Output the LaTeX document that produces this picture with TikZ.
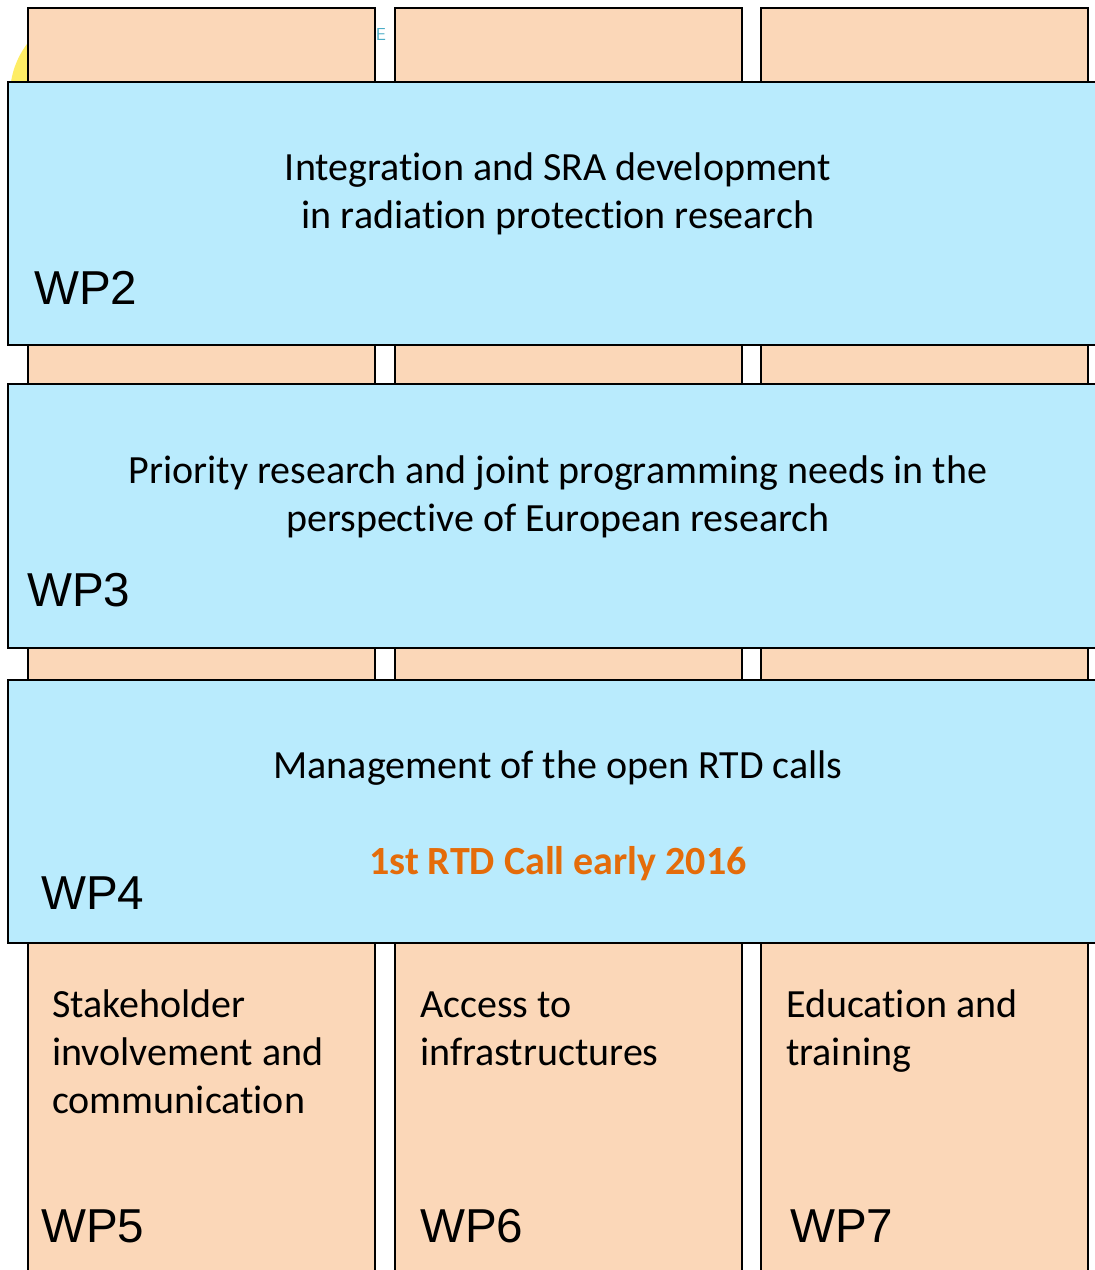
\documentclass[tikz,border=0pt]{standalone}
\usepackage{fontspec}
\setmainfont[Ligatures=NoCommon]{Carlito}
\newfontfamily\arialfont{Liberation Sans}
\definecolor{peach}{HTML}{FBD7B8}
\definecolor{skyblue}{HTML}{B9EBFD}
\definecolor{callorange}{HTML}{E46C0A}
\definecolor{teal}{HTML}{4BACC6}
\begin{document}
\begin{tikzpicture}[x=0.75pt,y=-0.75pt,
  colbox/.style={draw=black, line width=1.6pt, fill=peach},
  wpbox/.style={draw=black, line width=1.2pt, fill=skyblue},
  maintext/.style={font=\fontsize{30}{36}\selectfont, align=center, inner sep=0pt},
  coltext/.style={font=\fontsize{30}{36}\selectfont, align=left, inner sep=0pt, anchor=base west},
  wplabel/.style={font=\arialfont\fontsize{35.7}{40}\selectfont, inner sep=0pt, anchor=west}]
\useasboundingbox (0,0) rectangle (1095,1270);
% background fragments
\fill[yellow!85!orange!60] (95,95) circle (85);
\node[font=\sffamily\fontsize{13}{14}\selectfont, text=teal, inner sep=0pt] (efrag) at (381,35) {E};
% columns
\draw[colbox] (28,8) rectangle (375,1285);
\draw[colbox] (395,8) rectangle (742,1285);
\draw[colbox] (761,8) rectangle (1088,1285);
% work package bands
\draw[wpbox] (8,82) rectangle (1110,345);
\draw[wpbox] (8,384) rectangle (1110,648);
\draw[wpbox] (8,680) rectangle (1110,943);
% texts
\node[maintext] (t2) at (558,194) {Integration and SRA development\\in radiation protection research};
\node[wplabel] (wp2) at (34,288) {WP2};
\node[maintext] (t3) at (558,497) {Priority research and joint programming needs in the\\perspective of European research};
\node[wplabel] (wp3) at (27,590) {WP3};
\node[maintext] (t4) at (558,768) {Management of the open RTD calls};
\node[maintext, font=\bfseries\fontsize{30}{36}\selectfont, text=callorange] (call) at (558,864) {1st RTD Call early 2016};
\node[wplabel] (wp4) at (41,893) {WP4};
\node[coltext] (t5) at (52,1017) {Stakeholder};
\node[coltext] (t5b) at (52,1065) {involvement and};
\node[coltext] (t5c) at (52,1113) {communication};
\node[wplabel] (wp5) at (41,1226) {WP5};
\node[coltext] (t6) at (420,1017) {Access to};
\node[coltext] (t6b) at (420,1065) {infrastructures};
\node[wplabel] (wp6) at (420,1226) {WP6};
\node[coltext] (t7) at (786,1017) {Education and};
\node[coltext] (t7b) at (786,1065) {training};
\node[wplabel] (wp7) at (790,1226) {WP7};
\end{tikzpicture}
\end{document}
